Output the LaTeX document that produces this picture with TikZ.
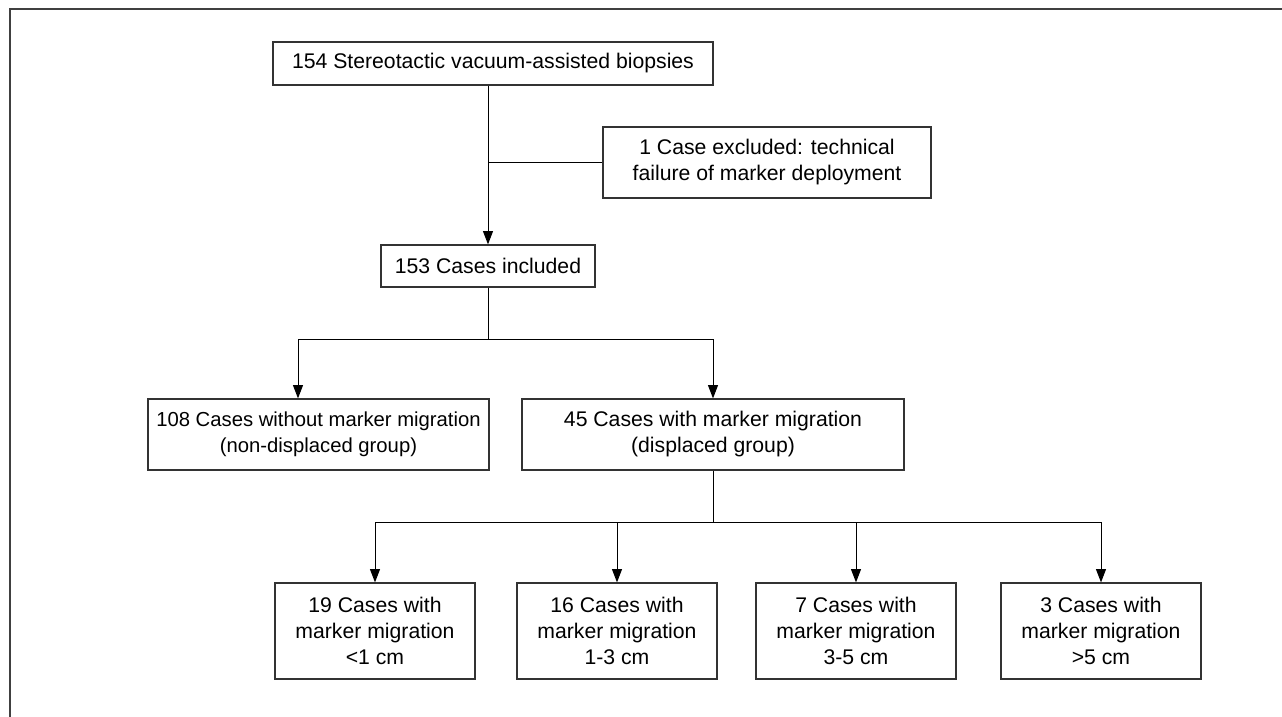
\documentclass[tikz,border=0pt]{standalone}
\usepackage{fontspec}
\setmainfont{Liberation Sans}
\usetikzlibrary{arrows.meta}
\begin{document}
\begin{tikzpicture}[x=0.75pt,y=-0.75pt,
    box/.style={draw=black!80,line width=0.9pt,align=center,inner sep=0pt,
        font=\fontsize{15.9}{19.5}\selectfont},
    link/.style={line width=0.75pt},
    arr/.style={link,-{Triangle[length=10pt,width=7.5pt]}}]
    \useasboundingbox (0,0) rectangle (1282,717);
    % Frame round the figure (left and top edges)
    \draw[line width=1.2pt,black!75] (10,717) -- (10,9) -- (1282,9);

    % Enrolment
    \node[box,minimum width=330pt,minimum height=32.25pt] (total) at (493,63.5)
        {154 Stereotactic vacuum-assisted biopsies};
    \node[box,minimum width=246pt,minimum height=53.25pt] (excl) at (767,162.5)
        {1 Case excluded: technical\\failure of marker deployment};
    \node[box,minimum width=160.5pt,minimum height=31.5pt] (incl) at (488,266)
        {153 Cases included};

    % Groups
    \node[box,minimum width=255.75pt,minimum height=53.25pt,
        font=\fontsize{15.2}{19.5}\selectfont] (nondisp) at (318.5,434.5)
        {108 Cases without marker migration\\(non-displaced group)};
    \node[box,minimum width=286.5pt,minimum height=53.25pt] (disp) at (713,434.5)
        {45 Cases with marker migration\\(displaced group)};

    % Migration distance
    \node[box,minimum width=150pt,minimum height=72pt] (lt1) at (375,631)
        {19 Cases with\\marker migration\\<1 cm};
    \node[box,minimum width=150pt,minimum height=72pt] (m1to3) at (617,631)
        {16 Cases with\\marker migration\\1-3 cm};
    \node[box,minimum width=150pt,minimum height=72pt] (m3to5) at (856,631)
        {7 Cases with\\marker migration\\3-5 cm};
    \node[box,minimum width=150pt,minimum height=72pt] (gt5) at (1101,631)
        {3 Cases with\\marker migration\\>5 cm};

    % Junction points
    \coordinate (jexcl) at (incl.north |- excl.west);
    \coordinate (jgrp) at (incl.south |- 0,339);
    \coordinate (jleft) at (298,339);
    \coordinate (jdist) at (disp.south |- 0,522);

    % Total -> included, with exclusion branch
    \draw[arr] (incl.north |- total.south) -- (incl.north);
    \draw[link] (jexcl) -- (excl.west);

    % Included -> groups
    \draw[link] (incl.south) -- (jgrp);
    \draw[link] (jleft) -- (disp.north |- jgrp);
    \draw[arr] (jleft) -- (jleft |- nondisp.north);
    \draw[arr] (disp.north |- jgrp) -- (disp.north);

    % Displaced -> distances
    \draw[link] (disp.south) -- (jdist);
    \draw[link] (lt1.north |- jdist) -- (gt5.north |- jdist);
    \draw[arr] (lt1.north |- jdist) -- (lt1.north);
    \draw[arr] (m1to3.north |- jdist) -- (m1to3.north);
    \draw[arr] (m3to5.north |- jdist) -- (m3to5.north);
    \draw[arr] (gt5.north |- jdist) -- (gt5.north);
\end{tikzpicture}
\end{document}
